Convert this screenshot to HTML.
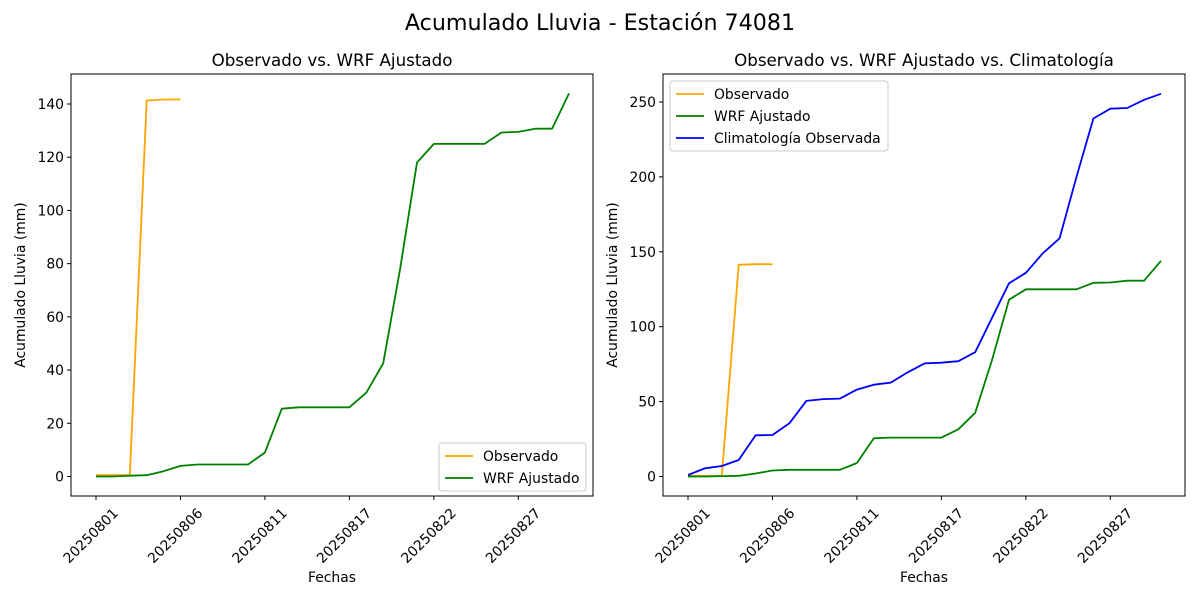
<!DOCTYPE html>
<html><head><meta charset="utf-8"><style>
body{margin:0;background:#fff}
svg{font-family:"DejaVu Sans","Liberation Sans",sans-serif}
</style></head><body>
<svg id="s" width="1200" height="600" xmlns="http://www.w3.org/2000/svg"></svg>
<script>
const s=document.getElementById('s');
let h='<rect width="1200" height="600" fill="#fff"/>';
h+='<text x="600" y="30" font-size="22.2" text-anchor="middle">Acumulado Lluvia - Estación 74081</text>';
const green=[0,0,0.3,0.5,2,4,4.5,4.5,4.5,4.5,9,25.5,26,26,26,26,31.5,42.5,78,118,125,125,125,125,129.3,129.5,130.7,130.7,144];
const orange=[0.5,0.5,0.5,141.3,141.7,141.7];
const blue=[1,5.5,7,11,27.5,27.7,35.5,50.5,51.7,52,58,61.3,62.7,69.5,75.5,76,77,83,106,129,136,149,159,200,239,245.5,246,251.5,255.5];
const step=(569-96)/28;
const FS=13.9;
function panel(ox,ymax,scale,ticks,title,withBlue){
  const L=ox,R=ox+522,T=74,B=496,y0=476.5;
  const X=i=>96-71+ox+i*step, Y=v=>y0-v*scale;
  let o='';
  o+=`<text x="${(L+R)/2}" y="66" font-size="16.7" text-anchor="middle">${title}</text>`;
  const line=(arr,c)=>`<polyline fill="none" stroke="${c}" stroke-width="1.8" stroke-linejoin="round" points="${arr.map((v,i)=>X(i).toFixed(1)+','+Y(v).toFixed(1)).join(' ')}"/>`;
  o+=line(orange,'orange')+line(green,'green');
  if(withBlue)o+=line(blue,'blue');
  o+=`<rect x="${L}" y="${T}" width="522" height="422" fill="none" stroke="#000" stroke-width="1"/>`;
  ticks.forEach(t=>{const y=Y(t);o+=`<line x1="${L-4}" x2="${L}" y1="${y}" y2="${y}" stroke="#000"/><text x="${L-7}" y="${y+5}" font-size="${FS}" text-anchor="end">${t}</text>`;});
  const lab=['20250801','20250806','20250811','20250817','20250822','20250827'];
  lab.forEach((t,k)=>{const x=X(k*5);o+=`<line x1="${x}" x2="${x}" y1="${B}" y2="${B+4}" stroke="#000"/><text transform="translate(${x-2},${B+43}) rotate(-45)" font-size="${FS}" text-anchor="middle">${t}</text>`;});
  o+=`<text x="${(L+R)/2}" y="582" font-size="${FS}" text-anchor="middle">Fechas</text>`;
  o+=`<text transform="translate(${L-46},${(T+B)/2}) rotate(-90)" font-size="${FS}" text-anchor="middle">Acumulado Lluvia (mm)</text>`;
  return o;
}
h+=panel(71,150,(476.5-104)/140,[0,20,40,60,80,100,120,140],'Observado vs. WRF Ajustado',false);
h+=panel(663,260,(476.5-102)/250,[0,50,100,150,200,250],'Observado vs. WRF Ajustado vs. Climatología',true);
function legend(x,y,w,items){
  let o=`<rect x="${x}" y="${y}" width="${w}" height="${items.length*22+4}" rx="3" fill="#fff" fill-opacity="0.8" stroke="#ccc"/>`;
  items.forEach((it,i)=>{const yy=y+13+i*22;o+=`<line x1="${x+6}" x2="${x+34}" y1="${yy}" y2="${yy}" stroke="${it[1]}" stroke-width="1.8"/><text x="${x+44}" y="${yy+5}" font-size="${FS}">${it[0]}</text>`;});
  return o;
}
h+=legend(439,443,147,[['Observado','orange'],['WRF Ajustado','green']]);
h+=legend(670,81,218,[['Observado','orange'],['WRF Ajustado','green'],['Climatología Observada','blue']]);
s.innerHTML=h;
</script>
</body></html>
